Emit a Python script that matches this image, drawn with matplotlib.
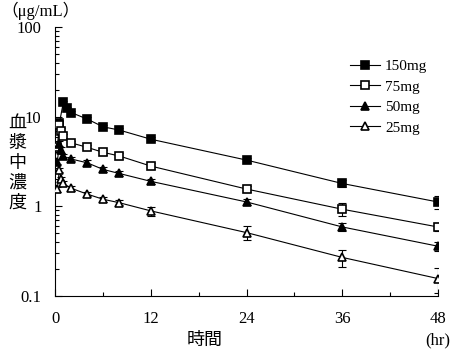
import matplotlib
matplotlib.use("Agg")
import matplotlib.pyplot as plt
from matplotlib.ticker import FixedLocator, NullFormatter

plt.rcParams['font.family'] = ['Liberation Serif', 'Noto Sans CJK JP', 'DejaVu Sans']

# sampling times (hr)
t_150 = [0.5, 1, 1.5, 2, 4, 6, 8, 12, 24, 36, 48]
t_all = [0.25, 0.5, 0.75, 1, 2, 4, 6, 8, 12, 24, 36, 48]

c_150 = [8.4, 14.4, 12.4, 11.1, 9.4, 7.7, 7.1, 5.6, 3.28, 1.80, 1.12]
e_150 = [0.5, 0.6, 0.5, 0.4, 0.4, 0.3, 0.3, 0.3, 0.2, 0.15, 0.18]

c_75 = [4.6, 8.1, 7.0, 6.1, 5.1, 4.55, 4.0, 3.65, 2.81, 1.56, 0.93, 0.59]
e_75 = [0.3, 0.4, 0.4, 0.3, 0.3, 0.3, 0.3, 0.25, 0.2, 0.12, 0.15, 0.06]

c_50 = [3.14, 5.0, 4.25, 3.6, 3.37, 3.06, 2.58, 2.33, 1.9, 1.12, 0.59, 0.36]
e_50 = [0.2, 0.3, 0.3, 0.2, 0.2, 0.2, 0.15, 0.15, 0.12, 0.08, 0.06, 0.04]

c_25 = [1.56, 2.54, 2.02, 1.80, 1.59, 1.37, 1.20, 1.10, 0.89, 0.51, 0.27, 0.157]
e_25 = [0.1, 0.15, 0.12, 0.1, 0.1, 0.08, 0.08, 0.07, 0.1, 0.09, 0.06, 0.05]

series = [
    ("150mg", t_150, c_150, e_150, 's', 'black'),
    ("75mg", t_all, c_75, e_75, 's', 'white'),
    ("50mg", t_all, c_50, e_50, '^', 'black'),
    ("25mg", t_all, c_25, e_25, '^', 'white'),
]

fig = plt.figure(figsize=(4.5, 3.5), dpi=100)
ax = fig.add_axes([0.123, 0.154, 0.850, 0.769])

for name, t, c, e, m, fc in series:
    ax.errorbar(t, c, yerr=e, fmt='none', ecolor='black', elinewidth=0.8,
                capsize=3, capthick=0.8, zorder=2)
    ax.plot(t, c, color='black', lw=0.8, marker=m, markersize=6,
            markerfacecolor=fc, markeredgecolor='black', markeredgewidth=1.2,
            label=name, zorder=3)

ax.set_yscale('log')
ax.set_ylim(0.1, 100)
ax.set_xlim(0, 48)
ax.set_xticks([0, 12, 24, 36, 48])
ax.xaxis.set_minor_locator(FixedLocator([6, 18, 30, 42]))
ax.set_yticks([0.1, 1, 10, 100])
ax.set_yticklabels(['0.1', '1', '10', '100'])
ax.yaxis.set_minor_formatter(NullFormatter())

for s in ['top', 'right']:
    ax.spines[s].set_visible(False)
for s in ['left', 'bottom']:
    ax.spines[s].set_linewidth(0.8)

ax.tick_params(axis='both', which='both', direction='in', width=0.8, labelsize=12)
ax.tick_params(axis='both', which='major', length=5)
ax.tick_params(axis='both', which='minor', length=3)
ax.tick_params(axis='x', pad=11)
ax.tick_params(axis='y', pad=10)

leg = ax.legend(loc='upper left', bbox_to_anchor=(0.77, 0.88), frameon=False,
                fontsize=11, handlelength=2.0, handletextpad=0.3,
                labelspacing=0.45, borderaxespad=0, borderpad=0)

fig.text(0.003, 0.97, "（μg/mL）", fontsize=12, ha='left', va='center')
for i, ch in enumerate("血漿中濃度"):
    fig.text(0.038, 1 - (123 + 20 * i) / 350, ch, fontsize=13,
             family=['Noto Sans CJK JP'], ha='center', va='center')
fig.text(0.455, 1 - 340 / 350, "時間", fontsize=13, family=['Noto Sans CJK JP'],
         ha='center', va='center')
fig.text(0.972, 1 - 340 / 350, "(hr)", fontsize=12, ha='center', va='center')

fig.savefig("out.png", dpi=100)
